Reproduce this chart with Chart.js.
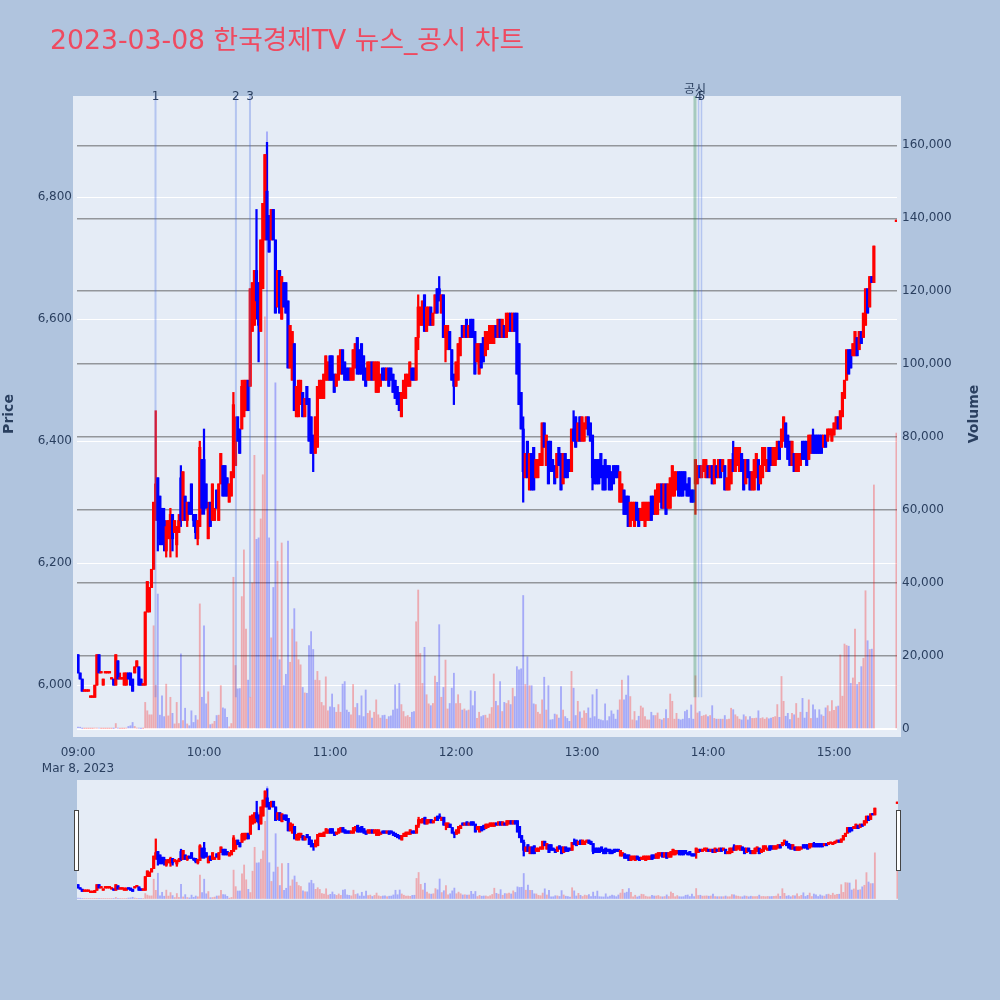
<!DOCTYPE html>
<html>
<head>
<meta charset="utf-8">
<script src="https://cdn.jsdelivr.net/npm/chart.js@4"></script>
<style>
  html, body { margin: 0; padding: 0; background: #b0c4de; }
  #main { position: absolute; left: 0; top: 0; }
  #slider { position: absolute; left: 77px; top: 780px; background: #e5ecf6; }
  #title { position: absolute; left: 50px; top: 20px; font: 26.7px "DejaVu Sans", "Noto Sans CJK KR", sans-serif; line-height: 40px; color: #ef4a60; white-space: nowrap; }
  .handle { position: absolute; top: 810px; width: 3px; height: 59px; background: #fff; border: 1px solid #444; }
</style>
</head>
<body>
<canvas id="main" width="1000" height="1000"></canvas>
<canvas id="slider" width="821" height="120"></canvas>
<div id="title">2023-03-08 한국경제TV 뉴스_공시 차트</div>
<div class="handle" style="left:74px"></div>
<div class="handle" style="left:896px"></div>
<script>
// One value per minute from 09:00 to 15:19, then the 15:30 close
const opens = [
  6050,6020,6010,5990,5990,5990,5980,5980,5980,6000, 6050,6020,6000,6020,6020,6020,6010,6010,6000,6040,
  6010,6010,6000,6000,6020,6020,6010,6020,6030,6030, 6010,6000,6000,6120,6120,6160,6190,6280,6340,6310,
  6290,6270,6220,6240,6240,6280,6250,6230,6250,6340, 6270,6310,6270,6300,6330,6280,6280,6240,6260,6370,
  6370,6330,6240,6300,6270,6270,6320,6270,6330,6360, 6360,6340,6300,6310,6340,6360,6440,6420,6420,6440,
  6450,6500,6490,6580,6590,6680,6660,6580,6650,6730, 6810,6770,6730,6780,6730,6620,6680,6600,6660,6660,
  6630,6520,6500,6560,6440,6440,6460,6480,6440,6490, 6470,6440,6410,6380,6390,6470,6470,6470,6500,6500,
  6540,6540,6510,6490,6500,6510,6550,6530,6520,6520, 6500,6500,6520,6570,6550,6560,6540,6520,6500,6500,
  6530,6500,6480,6480,6490,6520,6520,6500,6520,6520, 6510,6500,6490,6480,6440,6470,6470,6490,6490,6520,
  6520,6500,6570,6590,6590,6640,6580,6590,6620,6590, 6610,6650,6650,6610,6640,6570,6550,6580,6550,6510,
  6490,6500,6540,6590,6570,6600,6570,6600,6600,6580, 6530,6510,6560,6570,6540,6550,6560,6560,6560,6590,
  6570,6600,6570,6590,6570,6580,6610,6580,6610,6610, 6560,6480,6420,6340,6400,6320,6380,6390,6340,6340,
  6360,6360,6430,6360,6400,6400,6370,6360,6340,6390, 6380,6330,6380,6370,6370,6350,6420,6440,6400,6440,
  6400,6400,6420,6440,6430,6410,6370,6370,6370,6380, 6360,6370,6360,6360,6350,6360,6360,6360,6300,6300,
  6320,6310,6310,6260,6270,6260,6300,6290,6270,6270, 6260,6270,6270,6310,6310,6280,6280,6300,6330,6290,
  6330,6290,6290,6310,6310,6320,6350,6350,6350,6350, 6330,6340,6320,6320,6330,6330,6360,6340,6350,6340,
  6360,6340,6360,6330,6360,6340,6370,6350,6360,6320, 6320,6330,6380,6350,6360,6350,6380,6370,6330,6370,
  6350,6320,6320,6340,6370,6330,6340,6360,6350,6390, 6390,6360,6360,6370,6400,6390,6400,6430,6410,6400,
  6360,6380,6350,6350,6360,6400,6400,6400,6370,6380, 6410,6410,6410,6410,6410,6390,6410,6400,6410,6400,
  6410,6420,6440,6420,6440,6470,6500,6550,6550,6540, 6540,6570,6550,6580,6570,6590,6650,6620,6670,6660,
  6760
];
const closes = [
  6020,6010,5990,5990,5990,5990,5980,5980,6000,6050, 6020,6020,6010,6020,6020,6020,6010,6000,6050,6010,
  6010,6010,6020,6020,6010,6000,5990,6030,6040,6000, 6000,6000,6120,6170,6160,6190,6300,6330,6270,6240,
  6250,6240,6260,6270,6280,6240,6270,6260,6270,6270, 6350,6270,6300,6280,6280,6270,6250,6270,6390,6290,
  6300,6290,6290,6260,6330,6290,6290,6330,6380,6310, 6310,6310,6330,6350,6460,6430,6400,6380,6490,6500,
  6500,6450,6650,6660,6680,6630,6590,6730,6790,6870, 6730,6710,6780,6730,6610,6680,6610,6670,6620,6610,
  6520,6590,6580,6450,6490,6500,6500,6440,6470,6460, 6400,6380,6390,6440,6490,6500,6500,6510,6540,6530,
  6500,6500,6480,6510,6540,6550,6510,6500,6500,6500, 6520,6550,6560,6510,6510,6510,6500,6490,6530,6530,
  6500,6530,6530,6530,6510,6500,6500,6520,6490,6500, 6480,6470,6460,6450,6480,6500,6510,6510,6530,6500,
  6500,6570,6620,6620,6630,6580,6620,6620,6590,6610, 6640,6610,6630,6640,6570,6590,6590,6550,6500,6490,
  6530,6560,6570,6570,6590,6570,6590,6570,6570,6510, 6560,6560,6520,6530,6580,6580,6590,6590,6590,6570,
  6600,6570,6600,6570,6610,6610,6580,6610,6580,6510, 6460,6420,6350,6380,6340,6380,6320,6320,6370,6370,
  6380,6430,6390,6410,6330,6350,6350,6330,6380,6360, 6320,6380,6340,6340,6350,6420,6400,6390,6430,6400,
  6440,6430,6440,6410,6400,6340,6330,6330,6330,6340, 6320,6320,6340,6320,6320,6330,6340,6340,6350,6330,
  6280,6280,6260,6300,6300,6300,6270,6260,6290,6300, 6300,6300,6300,6270,6280,6320,6330,6330,6290,6330,
  6280,6330,6340,6360,6350,6350,6310,6310,6310,6320, 6310,6310,6300,6300,6370,6360,6340,6360,6370,6370,
  6340,6360,6330,6370,6340,6370,6340,6370,6320,6340, 6370,6370,6350,6390,6390,6390,6350,6320,6370,6340,
  6320,6350,6370,6380,6320,6360,6390,6390,6370,6350, 6360,6390,6390,6400,6370,6420,6440,6390,6370,6360,
  6400,6350,6380,6380,6380,6370,6370,6360,6410,6410, 6380,6380,6380,6380,6380,6410,6390,6420,6420,6420,
  6430,6440,6420,6450,6480,6500,6550,6510,6520,6560, 6580,6540,6580,6560,6610,6650,6610,6670,6660,6720,
  6760
];
const highs = [
  6050,6020,6010,5990,5990,5990,5980,5980,6000,6050, 6050,6020,6010,6020,6020,6020,6010,6010,6050,6040,
  6020,6010,6020,6020,6020,6020,6010,6030,6040,6030, 6010,6000,6120,6170,6160,6190,6300,6450,6340,6310,
  6290,6290,6270,6270,6290,6280,6270,6260,6280,6360, 6350,6310,6300,6300,6330,6280,6280,6270,6400,6370,
  6420,6330,6300,6300,6330,6290,6320,6330,6380,6360, 6360,6340,6330,6350,6480,6440,6440,6420,6500,6500,
  6500,6500,6650,6660,6680,6780,6660,6730,6790,6870, 6890,6770,6780,6780,6730,6680,6680,6670,6660,6660,
  6630,6590,6580,6560,6490,6500,6500,6480,6470,6490, 6470,6440,6410,6440,6490,6500,6500,6510,6540,6530,
  6540,6540,6510,6510,6540,6550,6550,6530,6520,6520, 6520,6550,6560,6570,6550,6560,6540,6520,6530,6530,
  6530,6530,6530,6530,6510,6520,6520,6520,6520,6520, 6510,6500,6490,6480,6480,6500,6510,6510,6530,6520,
  6520,6570,6640,6620,6630,6640,6620,6620,6620,6610, 6640,6650,6670,6640,6640,6590,6590,6580,6550,6510,
  6530,6560,6570,6590,6590,6600,6590,6600,6600,6580, 6560,6560,6560,6570,6580,6580,6590,6590,6590,6590,
  6600,6600,6600,6590,6610,6610,6610,6610,6610,6610, 6560,6480,6440,6380,6400,6380,6380,6390,6370,6370,
  6380,6430,6430,6410,6400,6400,6370,6360,6380,6390, 6380,6380,6380,6370,6370,6420,6450,6440,6430,6440,
  6440,6430,6440,6440,6430,6410,6370,6370,6370,6380, 6360,6370,6360,6360,6350,6360,6360,6360,6350,6330,
  6320,6310,6310,6300,6300,6300,6300,6290,6290,6300, 6300,6300,6300,6310,6310,6320,6330,6330,6330,6330,
  6330,6330,6340,6360,6350,6350,6350,6350,6350,6350, 6330,6340,6320,6320,6370,6360,6360,6360,6370,6370,
  6360,6360,6360,6370,6360,6370,6370,6370,6360,6340, 6370,6370,6400,6390,6390,6390,6380,6370,6370,6370,
  6350,6350,6370,6380,6370,6360,6390,6390,6370,6390, 6390,6390,6390,6400,6400,6420,6440,6430,6410,6400,
  6400,6380,6380,6380,6380,6400,6400,6400,6410,6410, 6420,6410,6410,6410,6410,6410,6410,6420,6420,6420,
  6430,6440,6440,6450,6480,6500,6550,6550,6550,6560, 6580,6570,6580,6580,6610,6650,6650,6670,6670,6720,
  6760
];
const lows = [
  6020,6010,5990,5990,5990,5990,5980,5980,5980,6000, 6020,6020,6000,6020,6020,6020,6010,6000,6000,6010,
  6010,6010,6000,6000,6010,6000,5990,6020,6030,6000, 6000,6000,6000,6120,6120,6160,6190,6270,6220,6230,
  6230,6220,6210,6240,6210,6220,6250,6210,6250,6260, 6270,6270,6260,6280,6280,6260,6240,6230,6260,6280,
  6280,6290,6240,6260,6270,6270,6290,6270,6330,6310, 6310,6310,6300,6310,6340,6360,6400,6380,6420,6440,
  6450,6450,6490,6580,6590,6600,6530,6580,6650,6730, 6730,6710,6730,6730,6610,6620,6610,6600,6620,6610,
  6520,6520,6500,6450,6440,6440,6460,6440,6440,6460, 6400,6380,6350,6380,6390,6470,6470,6470,6500,6500,
  6500,6500,6480,6490,6500,6510,6510,6500,6500,6500, 6500,6500,6520,6510,6510,6510,6500,6490,6500,6500,
  6500,6500,6480,6480,6490,6500,6500,6500,6490,6500, 6480,6470,6460,6450,6440,6470,6470,6490,6490,6500,
  6500,6500,6550,6590,6590,6580,6580,6590,6590,6590, 6610,6610,6630,6610,6570,6530,6550,6550,6500,6460,
  6490,6500,6540,6570,6570,6570,6570,6570,6570,6510, 6530,6510,6520,6530,6540,6550,6560,6560,6560,6570,
  6570,6570,6570,6570,6570,6580,6580,6580,6580,6510, 6460,6420,6300,6340,6340,6320,6320,6320,6340,6340,
  6360,6360,6390,6360,6330,6350,6350,6330,6340,6360, 6320,6330,6340,6340,6350,6350,6400,6390,6400,6400,
  6400,6400,6420,6410,6400,6320,6330,6330,6330,6340, 6320,6320,6340,6320,6320,6330,6340,6340,6300,6300,
  6280,6280,6260,6260,6270,6260,6270,6260,6270,6270, 6260,6270,6270,6270,6280,6280,6280,6300,6290,6290,
  6280,6290,6290,6310,6310,6320,6310,6310,6310,6320, 6310,6310,6300,6300,6280,6330,6340,6340,6350,6340,
  6340,6340,6330,6330,6340,6340,6340,6350,6320,6320, 6320,6330,6350,6350,6360,6350,6350,6320,6330,6340,
  6320,6320,6320,6340,6320,6330,6340,6360,6350,6350, 6360,6360,6360,6370,6370,6390,6400,6390,6370,6360,
  6360,6350,6350,6350,6360,6370,6370,6360,6370,6380, 6380,6380,6380,6380,6380,6390,6390,6400,6410,6400,
  6410,6420,6420,6420,6440,6470,6500,6510,6520,6540, 6540,6540,6550,6560,6570,6590,6610,6620,6660,6660,
  6760
];
const volumes = [
  500,500,100,100,100,100,100,100,200,200, 200,100,100,100,100,100,100,100,1500,200,
  100,100,100,200,700,900,1800,700,200,200, 100,100,7300,5000,3900,3900,28300,12000,37000,3800,
  9100,3400,12300,3600,8700,4300,1400,7300,1500,20600, 2300,5700,1400,900,5000,1800,3700,2500,34300,8700,
  28300,6900,10200,1200,1400,2100,3700,3800,11900,5800, 5500,3200,600,1500,41600,17400,11000,11100,36300,49100,
  27400,13400,8700,40000,75000,52000,52400,57600,69700,113000, 163700,52400,25000,38800,94900,46000,19000,51000,11900,15000,
  51500,18300,27400,33000,23900,19000,17600,11400,9900,9800, 22900,26700,21800,13400,15800,13300,7300,6400,14300,5000,
  6100,9600,5900,4600,6700,4600,12300,13000,5200,4600, 3900,12200,5900,7000,3700,9100,3400,10700,4300,5000,
  3000,4600,8000,3900,3000,3700,3800,2700,3400,3600, 5200,12100,5500,12500,6700,4800,3400,3700,3200,4600,
  4800,29400,38100,20700,12500,22400,9400,6900,6400,7000, 14500,12800,28600,8700,11400,18900,5500,7000,11200,15300,
  7000,9400,7000,5200,5500,5000,5200,10500,6400,10300, 2900,4600,3400,3700,3800,3000,4100,5900,15100,7600,
  6400,13000,4800,7300,7000,7800,6700,11200,8900,17100, 16200,16500,36600,12200,19800,11900,11900,6900,6700,4600,
  4100,8000,14200,5200,11900,2500,2600,4100,3900,3000, 11600,5200,3400,2900,2100,15800,11200,3700,7600,4700,
  3000,5000,4300,5800,3000,9400,3400,10900,2700,2500, 2300,6900,2300,3400,5000,4100,2700,5200,8000,13400,
  8000,9300,14600,8900,2500,4800,2300,3500,6300,5800, 3400,2500,2500,4600,3700,3700,4400,2700,2500,2900,
  5300,2900,9600,7600,2700,4300,2700,2500,2700,4800, 5200,2900,6600,2700,14600,4400,4800,3500,3700,3900,
  3400,3700,6400,2900,2700,2700,2700,2700,3700,2600, 2700,5700,5300,3900,3400,2700,2500,3900,3400,2500,
  3400,2900,2900,3000,5000,2900,3100,2700,3100,2800, 3000,3200,3400,6700,3200,14400,7600,3500,4300,2600,
  4300,3900,7000,3000,4600,8400,3000,4600,8000,2900, 6600,5300,3000,5300,3900,3500,5800,6400,4800,7800,
  5100,6100,6300,20300,9000,23300,22900,22700,12500,14000, 27400,12200,12800,17100,19400,37900,24200,21800,21900,66900,
  81100
];

const closeMinute = 389.7;
const minutes = opens.map((_, i) => i < 380 ? i : closeMinute);

const priceTicks = [6000, 6200, 6400, 6600, 6800];
const volumeTicks = [0, 20000, 40000, 60000, 80000, 100000, 120000, 140000, 160000];
const timeTicks = [0, 60, 120, 180, 240, 300, 360];
const timeLabels = ['09:00', '10:00', '11:00', '12:00', '13:00', '14:00', '15:00'];
const dateLabel = 'Mar 8, 2023';

// News and disclosure markers
const eventMinutes = [36.9, 75.2, 81.9, 293.8, 295.5, 296.9];
const eventLabels = ['1', '2', '3', '공시', '4', '5'];
const eventColors = ['rgba(65,105,225,.3)', 'rgba(65,105,225,.3)', 'rgba(65,105,225,.3)', 'rgba(46,139,87,.35)', 'rgba(65,105,225,.3)', 'rgba(65,105,225,.3)'];
const eventWidths = [2, 2, 2, 3, 1.5, 1.5];

const priceMin = 5915, priceMax = 6966, eventBottom = 5980;
const volumeMin = -2190, volumeMax = 173520;
const timeMin = -0.476, timeMax = 390;

const textColor = '#2a3f5f';
const isUp = i => closes[i] >= opens[i];

function candleDatasets() {
    return [
        {
            type: 'bar', yAxisID: 'yVol', grouped: false, order: 4, barThickness: 1.2,
            data: minutes.map((m, i) => ({ x: m, y: volumes[i] })),
            backgroundColor: minutes.map((_, i) => isUp(i) ? 'rgba(255,0,0,.28)' : 'rgba(0,0,255,.28)')
        },
        {
            type: 'bar', yAxisID: 'y', grouped: false, order: 3, barThickness: 1.6, minBarLength: 1.5,
            data: minutes.map((m, i) => ({ x: m, y: [lows[i], highs[i]] })),
            backgroundColor: minutes.map((_, i) => isUp(i) ? '#ff0000' : '#0000ff')
        },
        {
            type: 'bar', yAxisID: 'y', grouped: false, order: 2, barThickness: 2.5, minBarLength: 1.5,
            data: minutes.map((m, i) => ({ x: m, y: [opens[i], closes[i]] })),
            backgroundColor: minutes.map((_, i) => isUp(i) ? '#ff0000' : '#0000ff')
        }
    ];
}

const eventDatasets = eventMinutes.map((m, i) => ({
    type: 'line', yAxisID: 'y', order: 1, pointRadius: 0,
    borderColor: eventColors[i], borderWidth: eventWidths[i],
    data: [{ x: m, y: priceMax }, { x: m, y: eventBottom }]
}));

// Plot background sticks out a little past the axes, like the original
const plotBackground = {
    id: 'plotBackground',
    beforeDraw(chart) {
        const a = chart.chartArea, ctx = chart.ctx;
        ctx.save();
        ctx.fillStyle = '#e5ecf6';
        ctx.fillRect(a.left - 4, a.top, a.right - a.left + 8, a.bottom - a.top);
        ctx.restore();
    }
};

const plotLabels = {
    id: 'plotLabels',
    afterDraw(chart) {
        const ctx = chart.ctx, x = chart.scales.x;
        ctx.save();
        ctx.fillStyle = textColor;
        ctx.textAlign = 'center';
        ctx.textBaseline = 'middle';
        ctx.font = '12px "DejaVu Sans", "Noto Sans CJK KR", sans-serif';
        eventLabels.forEach((label, i) => {
            ctx.fillText(label, x.getPixelForValue(eventMinutes[i]), label === '공시' ? 90 : 97);
        });
        ctx.font = 'bold 14px "DejaVu Sans", sans-serif';
        [['Price', 9, 414], ['Volume', 974, 414]].forEach(([text, px, py]) => {
            ctx.save();
            ctx.translate(px, py);
            ctx.rotate(-Math.PI / 2);
            ctx.fillText(text, 0, 0);
            ctx.restore();
        });
        ctx.restore();
    }
};

const tickFont = { family: '"DejaVu Sans", sans-serif', size: 12, lineHeight: 1.3 };

new Chart(document.getElementById('main'), {
    data: { datasets: [...candleDatasets(), ...eventDatasets] },
    plugins: [plotBackground, plotLabels],
    options: {
        responsive: false,
        animation: false,
        layout: { autoPadding: false, padding: { top: 96 } },
        plugins: { legend: { display: false }, tooltip: { enabled: false } },
        scales: {
            x: {
                type: 'linear', min: timeMin, max: timeMax, offset: false,
                grid: { display: false },
                border: { display: false },
                afterBuildTicks: s => { s.ticks = timeTicks.map(value => ({ value })); },
                afterFit: s => { s.height = 263; },
                ticks: {
                    color: textColor, font: tickFont, padding: 0, maxRotation: 0, autoSkip: false,
                    callback: value => {
                        const label = timeLabels[timeTicks.indexOf(value)];
                        return value === 0 ? [label, dateLabel] : label;
                    }
                }
            },
            y: {
                position: 'left', min: priceMin, max: priceMax,
                grid: { color: '#ffffff', lineWidth: 1, drawTicks: false },
                border: { display: false },
                afterBuildTicks: s => { s.ticks = priceTicks.map(value => ({ value })); },
                afterFit: s => { s.width = 77; },
                ticks: { color: textColor, font: tickFont, padding: 5, callback: v => v.toLocaleString('en-US') }
            },
            yVol: {
                position: 'right', min: volumeMin, max: volumeMax,
                grid: {
                    color: c => c.tick && c.tick.value === 0 ? '#ffffff' : 'rgba(80,80,80,.55)',
                    lineWidth: c => c.tick && c.tick.value === 0 ? 2 : 1.5,
                    drawTicks: false
                },
                border: { display: false },
                afterBuildTicks: s => { s.ticks = volumeTicks.map(value => ({ value })); },
                afterFit: s => { s.width = 103; },
                ticks: { color: textColor, font: tickFont, padding: 5, callback: v => v.toLocaleString('en-US') }
            }
        }
    }
});

// Range slider: same marks, squeezed into the strip below
new Chart(document.getElementById('slider'), {
    data: { datasets: candleDatasets() },
    options: {
        responsive: false,
        animation: false,
        layout: { autoPadding: false },
        plugins: { legend: { display: false }, tooltip: { enabled: false } },
        scales: {
            x: { type: 'linear', min: timeMin, max: timeMax, offset: false, display: false },
            y: { min: priceMin, max: priceMax, display: false },
            yVol: { min: volumeMin, max: volumeMax, display: false }
        }
    }
});
</script>
</body>
</html>
